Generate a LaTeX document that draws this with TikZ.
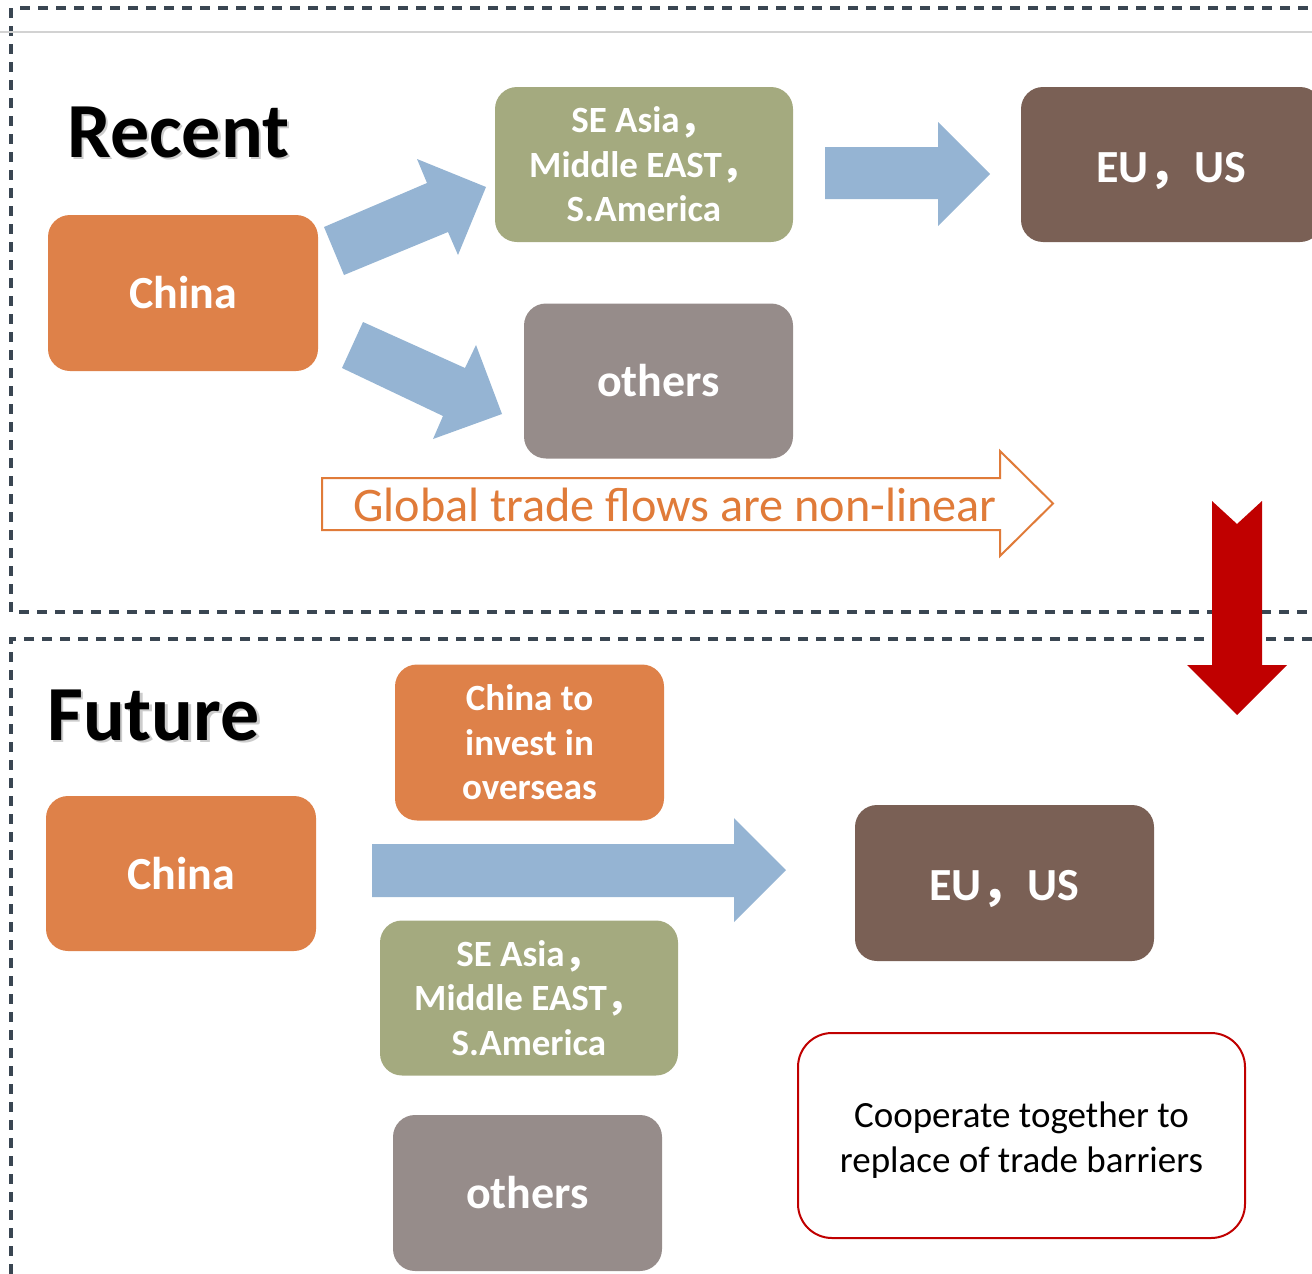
\documentclass[tikz,border=0pt]{standalone}
\usepackage{fontspec}
\setmainfont{Carlito}
\newfontfamily\cjk{Noto Sans CJK SC}
\definecolor{dashc}{HTML}{3A4652}
\definecolor{rulegray}{HTML}{D2D2D2}
\definecolor{orangebox}{HTML}{DE8149}
\definecolor{olivebox}{HTML}{A4AA7F}
\definecolor{brownbox}{HTML}{7A6055}
\definecolor{graybox}{HTML}{968C8A}
\definecolor{arrowblue}{HTML}{95B4D3}
\definecolor{darkred}{HTML}{C00000}
\definecolor{tradeorange}{HTML}{E07B39}
\newcommand{\fwc}{{\cjk ，}}
\tikzset{
  frameline/.style={draw=dashc, line width=3.4pt, dash pattern=on 10pt off 8pt},
  box/.style={rectangle, rounded corners=22pt, inner sep=0pt, text=white, align=center,
    font=\bfseries\fontsize{46}{55}\selectfont},
  smalltext/.style={font=\bfseries\fontsize{37}{44.5}\selectfont},
  title/.style={anchor=base west, inner sep=0pt, font=\bfseries\fontsize{78}{90}\selectfont},
  plainlabel/.style={inner sep=0pt},
}
\begin{document}
\begin{tikzpicture}[x=1pt,y=-1pt]
\useasboundingbox (0,0) rectangle (1312,1274);
\clip (0,0) rectangle (1312,1274);
% frames
\draw[frameline] (20,8) -- (1312,8);
\draw[frameline] (11,8) -- (11,612) -- (1312,612);
\draw[frameline] (1312,639) -- (11,639) -- (11,1274);
\draw[rulegray, line width=2pt] (0,32) -- (1312,32);

% titles
\node[title, text=black!40, opacity=0.5] at (69.5,159.5) {Recent};
\node[title] (recent) at (67,157) {Recent};
\node[title, text=black!40, opacity=0.5] at (49.5,742.5) {Future};
\node[title] (future) at (47,740) {Future};

% recent boxes
\node[box, fill=orangebox, minimum width=270pt, minimum height=156pt] (china1) at (183,293) {China};
\node[box, smalltext, fill=olivebox, minimum width=298pt, minimum height=155pt] (asia1) at (644,164.5)
  {SE Asia\fwc\\Middle EAST\fwc\\S.America};
\node[box, fill=brownbox, minimum width=301pt, minimum height=155pt] (eu1) at (1171.5,164.5) {};
\node[plainlabel, text=white, font=\bfseries\fontsize{46}{55}\selectfont] (eu1t) at (1171.5,170.5) {EU\fwc US};
\node[box, fill=graybox, minimum width=269pt, minimum height=155pt] (others1) at (658.5,381) {others};

% recent arrows
\fill[arrowblue] (324,227) -- (427,183) -- (417,159) -- (486,187) -- (458,255) -- (448,232) -- (344,275) -- cycle;
\fill[arrowblue] (363,322) -- (465,368) -- (476,345) -- (502,414) -- (433,439) -- (443,416) -- (342,368) -- cycle;
\fill[arrowblue] (825,147) -- (938,147) -- (938,122) -- (990,174) -- (938,226) -- (938,199) -- (825,199) -- cycle;

% global trade arrow
\draw[tradeorange, line width=2pt, fill=white] (322,478) -- (1000,478) -- (1000,451) -- (1053,503.5)
  -- (1000,556) -- (1000,530) -- (322,530) -- cycle;
\node[plainlabel, text=tradeorange, font=\fontsize{48.2}{56}\selectfont] (trade) at (675,505) {Global trade flows are non-linear};

% future boxes
\node[box, smalltext, fill=orangebox, minimum width=269pt, minimum height=156pt] (invest) at (529.5,742.5)
  {China to\\invest in\\overseas};
\node[box, fill=orangebox, minimum width=270pt, minimum height=155pt] (china2) at (181,873.5) {China};
\node[box, fill=brownbox, minimum width=299pt, minimum height=156pt] (eu2) at (1004.5,883) {};
\node[plainlabel, text=white, font=\bfseries\fontsize{46}{55}\selectfont] (eu2t) at (1004.5,889) {EU\fwc US};
\node[box, smalltext, fill=olivebox, minimum width=298pt, minimum height=155pt] (asia2) at (529,998)
  {SE Asia\fwc\\Middle EAST\fwc\\S.America};
\node[box, fill=graybox, minimum width=269pt, minimum height=156pt] (others2) at (527.5,1193) {others};
\node[rectangle, rounded corners=34pt, draw=darkred, line width=2pt, fill=white,
  minimum width=447pt, minimum height=205pt, inner sep=0pt] (coop) at (1021.5,1135.5) {};
\node[plainlabel, text=black, align=center, font=\fontsize{37}{45}\selectfont] (cooptext) at (1021.5,1140.5)
  {Cooperate together to\\replace of trade barriers};

% future arrow
\fill[arrowblue] (372,844) -- (734,844) -- (734,818) -- (786,870) -- (734,922) -- (734,897) -- (372,897) -- cycle;

% red down arrow
\fill[darkred] (1212,501) -- (1237,524) -- (1262,501) -- (1262,665) -- (1287,665) -- (1237,715)
  -- (1187,665) -- (1212,665) -- cycle;
\end{tikzpicture}
\end{document}
